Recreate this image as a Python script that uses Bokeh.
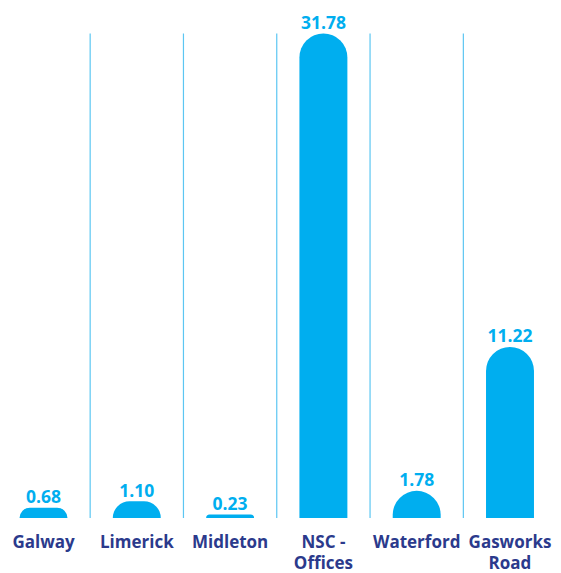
from bokeh.plotting import figure
from bokeh.models import ColumnDataSource, Range1d
from bokeh.core.properties import value
from bokeh.embed import file_html
from bokeh.resources import INLINE

categories = ["Galway", "Limerick", "Midleton", "NSC -\nOffices", "Waterford", "Gasworks\nRoad"]
values = [0.68, 1.10, 0.23, 31.78, 1.78, 11.22]
value_labels = ["0.68", "1.10", "0.23", "31.78", "1.78", "11.22"]

xs = list(range(len(categories)))
src = ColumnDataSource(dict(x=xs, top=values, lab=value_labels, cat=categories, zero=[0] * len(xs)))

vmax = max(values)
p = figure(width=561, height=573, output_backend="svg", toolbar_location=None,
           x_range=Range1d(-0.461, 5.552), y_range=Range1d(-3.64, 33.945),
           min_border=0, min_border_left=0, min_border_right=0, min_border_top=0, min_border_bottom=0)
p.axis.visible = False
p.xgrid.visible = False
p.ygrid.visible = False
p.outline_line_color = None
p.background_fill_color = "white"
p.border_fill_color = "white"

# separators between categories
sep_x = [i + 0.5 for i in xs[:-1]]
p.segment(x0=sep_x, x1=sep_x, y0=[0] * len(sep_x), y1=[vmax] * len(sep_x),
          line_color="#5CC6F2", line_width=1.2)

p.vbar(x="x", top="top", bottom=0, width=0.514, source=src,
       fill_color="#00AEEF", line_color=None, border_radius=(24, 24, 0, 0))

p.text(x="x", y="top", text="lab", source=src, text_align="center",
       text_baseline="alphabetic", y_offset=-11,
       text_font=value("Open Sans"), text_font_style="bold", text_font_size="17.5px",
       text_color="#00AEEF")

p.text(x="x", y="zero", text="cat", source=src, text_align="center",
       text_baseline="top", y_offset=12, text_line_height=0.9,
       text_font=value("Open Sans"), text_font_style="bold", text_font_size="17px",
       text_color="#2B3A8C")

open("out.html", "w").write(file_html(p, INLINE))
